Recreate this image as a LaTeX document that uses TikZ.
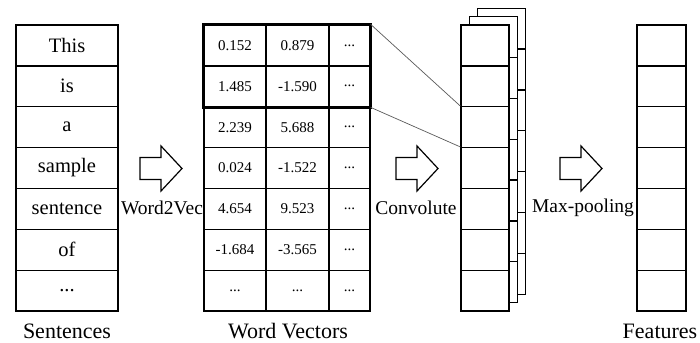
\documentclass[tikz,border=0pt]{standalone}
\usepackage{fontspec}
\setmainfont{Liberation Serif}
\usetikzlibrary{positioning}

\newcommand\celldots{...}

\tikzset{
  cell/.style={draw, line width=1.3pt, inner sep=0pt, minimum height=40.86pt,
    font=\fontsize{20.5}{24}\selectfont},
  numcell/.style={cell, font=\fontsize{15}{18}\selectfont},
  caption/.style={font=\fontsize{22}{26}\selectfont},
  steplabel/.style={font=\fontsize{19.5}{23}\selectfont},
  pics/blockarrow/.style={code={
    \draw[line width=1.2pt, line join=miter]
      (0,-11) -- (21,-11) -- (21,-22.5) -- (42,0) -- (21,22.5) -- (21,11) -- (0,11) -- cycle;
  }}
}

\begin{document}
\begin{tikzpicture}[x=1pt, y=-1pt]

    \useasboundingbox (0,0) rectangle (700,342);

    % Sentences
    \foreach \w [count=\i] in {This,is,a,sample,sentence,of,\celldots}
        \node[cell, minimum width=102pt] (s\i) at (67, 25+40.86*\i-20.43) {\w};
    \node[caption] (capS) at (67,331) {Sentences};

    % Word vectors
    \foreach \a/\b [count=\i] in {0.152/0.879, 1.485/-1.590, 2.239/5.688, 0.024/-1.522,
                                  4.654/9.523, -1.684/-3.565, \celldots/\celldots} {
        \node[numcell, minimum width=62pt] (v\i-1) at (235, 25+40.86*\i-20.43) {\a};
        \node[numcell, minimum width=63pt] (v\i-2) at (297.5, 25+40.86*\i-20.43) {\b};
        \node[numcell, minimum width=41pt] (v\i-3) at (349.5, 25+40.86*\i-20.43) {\celldots};
    }
    \draw[line width=3.5pt] (v1-1.north west) rectangle (v2-3.south east);
    \node[caption] (capV) at (288,331) {Word Vectors};

    % Convolution maps (back to front)
    \foreach \k in {2,1,0}
        \foreach \i in {1,...,7}
            \node[cell, fill=white, minimum width=48pt] (c\k-\i)
                at (485+8.4*\k, 25+40.86*\i-20.43-8.4*\k) {};

    % Window lines
    \draw[gray!70!black, line width=0.7pt] (v1-3.north east) -- (c0-3.north west);
    \draw[gray!70!black, line width=0.7pt] (v2-3.south east) -- (c0-4.north west);

    % Features
    \foreach \i in {1,...,7}
        \node[cell, minimum width=49pt] (f\i) at (661.5, 25+40.86*\i-20.43) {};
    \node[caption] (capF) at (660,331) {Features};

    % Steps
    \pic at (140,168.5) {blockarrow};
    \node[steplabel] (lw2v) at (162,208) {Word2Vec};
    \pic at (396,168.5) {blockarrow};
    \node[steplabel] (lconv) at (416,208) {Convolute};
    \pic at (560,168.5) {blockarrow};
    \node[steplabel] (lpool) at (583,208) {Max-pooling};

\end{tikzpicture}
\end{document}
